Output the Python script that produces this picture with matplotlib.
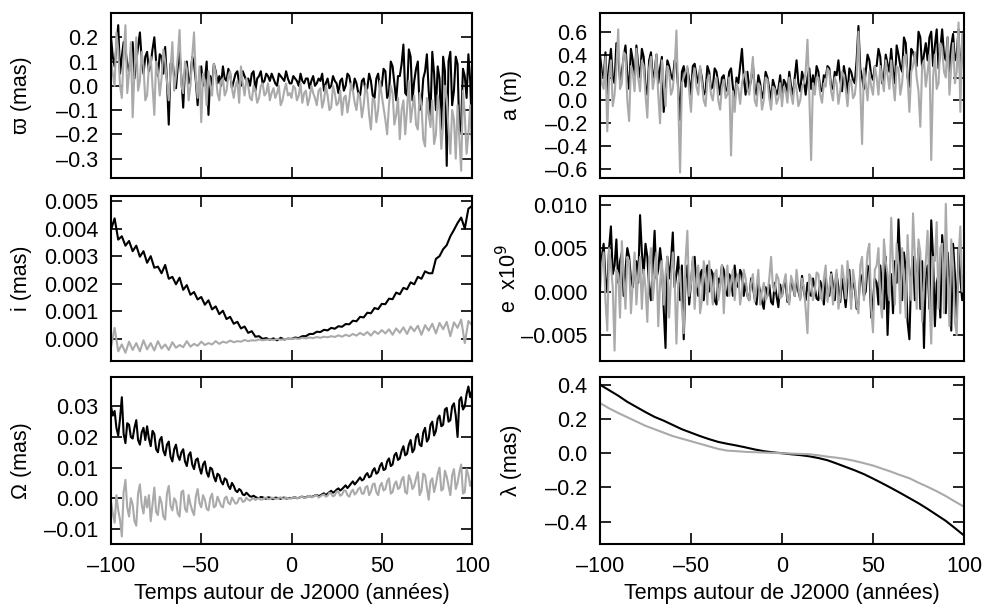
import numpy as np
import matplotlib
matplotlib.use('Agg')
import matplotlib.pyplot as plt
from matplotlib.ticker import FuncFormatter

plt.rcParams['font.family'] = ['Liberation Sans', 'DejaVu Sans']
FS = 15.5

# ---------------- data ----------------
years1 = np.arange(-100, 101, 1)         # dense noisy series (1-year steps)
years2 = np.arange(-100, 101, 2)         # inclination series (2-year steps)
years5 = np.arange(-100, 101, 5)         # lambda series (5-year steps)

# varpi (units of 0.01 mas)
varpi_black = [20, 12, 8, 16, 25, 5, 12, 18, 15, 9, 6, 14, 18, 3, 10, 16, 22, 11, 5, 12,
               14, 6, 9, 15, 20, 10, 4, 13, 12, 5, 16, 2, -16, 9, 11, 4, -1, 8, 14, 3,
               -9, 7, 10, 1, 3, 12, 9, 2, -8, 5, 8, 0, 2, 10, -12, 4, 0, 9, 6, 1,
               4, 0, 8, 3, 2, 7, 5, -1, 2, 5, 6, 1, 0, 6, 4, 2, 3, 0, 5, 6,
               -2, 3, 4, 6, 1, 2, 5, 4, 2, 5, 3, 1, 0, 5, 4, 3, 2, 6, 3, 1,
               1, 4, 3, 2, 0, 5, 2, 1, 3, 3, -1, 2, 4, 0, 1, 3, 2, 5, -2, 1,
               3, -1, 0, 4, 2, 1, -3, 2, 3, -2, 0, 5, 4, 0, -2, 3, 1, -3, -4, 2,
               3, -2, -1, 5, 2, -4, -5, 3, 5, -1, 0, 7, 6, -5, -3, 10, 8, 1, -6, 4,
               4, 9, 17, -3, -4, 15, 12, -6, 2, 7, 10, -10, -8, 3, 6, 13, -2, -12, 14, 5,
               -10, 8, 3, -18, 12, 6, -33, 10, 14, -8, -2, 12, 9, -20, -15, 7, 4, -5, 13, 2,
               -20]
varpi_grey = [10, 5, 0, 22, 15, 0, -5, 12, 25, -3, 5, 18, -13, 6, 20, -2, 2, 14, 8, -6,
              -4, 8, 12, 0, -12, 10, 6, -4, 3, 15, 10, 2, -6, 7, 18, -2, 4, 12, 23, 0,
              -3, 10, 7, -6, 0, 12, 22, 3, -5, 8, -15, 5, 2, -8, 6, 0, -4, 9, 5, -3,
              -6, 2, 3, -4, -2, 4, 6, -1, -5, 0, 2, -7, 8, 1, -4, 3, 0, -5, -6, 0,
              -2, -7, -5, 0, 1, -4, -3, 1, -6, -3, -1, -5, -3, 0, -8, -6, -2, 1, -4, -3,
              -5, 0, -1, -6, -4, 1, -7, -3, -2, -8, -5, 0, -3, -5, -8, -2, -1, -9, -6, 0,
              -4, -10, -9, 0, -3, -8, -7, -2, -12, -5, -4, -11, -6, 1, -2, -7, -10, -3, -5, -13,
              -8, 0, -3, -12, -18, -5, -6, -15, -10, 2, -4, -9, -14, -20, -8, 0, -3, -16, -12, -5,
              -22, -10, -6, -20, -10, 2, -15, -9, -4, -16, -18, -3, -8, -22, -25, -5, -12, -17, -6, -24,
              -20, -4, -10, -26, -16, 0, -5, -18, -28, -10, -14, -30, -8, -22, -35, -2, -12, -28, -20, -8,
              -25]

# a (units of 0.01 m)
a_black = [40, 25, 20, 42, 5, 30, 45, 20, 15, 50, 40, 18, 25, 38, 48, 22, 10, 45, 35, 15,
           48, 30, 20, 45, 38, 12, 5, 35, 42, 20, 25, 40, 15, 28, 38, -10, 10, 35, 30, 22,
           18, 35, 32, 10, -17, 25, 30, 12, 28, 18, 5, 30, 32, 22, 15, 28, 20, 5, 8, 30,
           25, 10, 12, 28, 25, 15, 5, 20, 22, 8, 10, 25, 28, 12, -2, 20, 15, 30, 45, 20,
           5, 25, 10, 18, 32, 10, 5, 22, 15, 2, 8, 25, 20, 10, 0, 18, 12, 5, 10, 22,
           2, 18, 15, 5, 25, 12, 5, 20, 35, 15, 8, 25, 18, 5, 20, 28, 10, 22, 12, 30,
           25, 10, 8, 22, 20, 30, 28, 12, 10, 25, 22, 35, 18, 8, 30, 20, 5, 28, 25, 18,
           15, 35, 65, 28, 20, 10, 25, 40, 35, 22, 18, 30, 30, 45, 38, 15, 20, 40, 32, 25,
           45, 25, 15, 48, 40, 30, 25, 55, 50, 20, 12, 45, 42, 35, 30, 60, 55, 28, 40, 50,
           35, 55, 60, 30, 48, 62, 28, 45, 62, 40, 35, 55, 20, 48, 58, 35, 40, 62, 15, 50,
           50]
a_grey = [30, 15, 10, 38, -27, 20, 35, -5, 5, 28, 62, 10, 15, 42, 40, 0, -18, 30, 25, 8,
          45, 20, 8, 35, 30, 5, -15, 28, 38, 10, 20, 40, 5, -20, 35, 15, -5, 30, 25, 5,
          10, 28, 61, 0, -63, 15, 20, 25, 30, 8, -10, 20, 28, 12, 5, 30, 15, 0, -5, 18,
          22, 5, 0, 15, 20, 0, -8, 12, 18, 2, 5, 20, -48, 8, -10, 15, 10, -3, 15, 22,
          25, 10, 5, 20, 38, 0, -5, 15, 12, -8, 0, 20, 18, 2, -8, 12, 10, -3, 2, 15,
          -5, 12, 8, -2, 20, 5, -3, 18, 10, -5, 0, 12, 15, 25, 53, 5, -52, 15, 5, 20,
          20, 5, -2, 15, 12, 28, 25, 8, 0, 20, 15, -3, 8, 25, 22, 10, -5, 15, 18, 2,
          5, 20, 60, 10, -38, 28, 15, 0, 25, 12, 5, 30, 20, 5, 30, 18, 8, 35, 22, 10,
          35, 15, 0, 30, 28, 5, 15, 38, 40, 20, -10, 25, 30, 42, 20, 8, -23, 30, 35, 12,
          25, 40, -52, 20, 40, 10, 15, 50, 45, 25, 20, 55, 5, 30, 50, 15, 25, 68, -10, 58,
          35]

# i (units of 1e-5 mas)
i_black = [395, 437, 360, 372, 338, 355, 318, 338, 298, 318,
           276, 300, 258, 262, 238, 268, 218, 225, 198, 222,
           178, 195, 160, 170, 143, 152, 124, 140, 107, 118,
           90, 102, 72, 80, 55, 62, 38, 45, 22, 28,
           8, 10, 0, 3, -3, 2, -5, 4, -2, 1,
           0, 5, 3, 10, 10, 18, 18, 26, 25, 33,
           31, 40, 37, 46, 44, 54, 53, 66, 64, 80,
           78, 95, 93, 112, 108, 127, 126, 146, 144, 168,
           162, 185, 180, 205, 198, 225, 218, 245, 238, 238,
           290, 300, 325, 340, 372, 395, 420, 440, 400, 472,
           482]
i_grey = [-30, 40, -45, -20, -50, -10, -40, -15, -45, -5,
          -38, -15, -42, -8, -35, -20, -40, -12, -32, -22,
          -30, -8, -28, -18, -25, -10, -22, -15, -20, -8,
          -18, -10, -14, -6, -12, -8, -10, -4, -8, -5,
          -6, -2, -5, -3, -2, -4, 0, -3, -1, 0,
          0, 2, 0, 4, 2, 5, 3, 7, 4, 8,
          6, 10, 7, 13, 8, 15, 10, 18, 12, 22,
          14, 25, 12, 28, 18, 32, 20, 35, 15, 38,
          22, 42, 18, 45, 28, 48, 15, 50, 30, 55,
          20, 58, 35, 62, 10, 60, 40, 70, -15, 65,
          50]

# e x1e9 (units of 1e-4)
e_black = [20, 40, 55, 15, 0, 50, 75, 20, 30, 60, 10, 35, 45, -5, 25, 50, 40, 15, 5, 30,
           35, 10, 88, 45, 20, 55, 40, 5, -10, 30, 70, 15, 25, 50, 30, -20, -65, 40, 15, 35,
           68, 5, 20, 40, -10, 30, -55, 15, 30, -15, 10, 35, 40, 5, -5, 20, 25, -10, 15, 30,
           0, 25, 20, -10, -15, 15, 10, 30, 25, 0, -5, 20, 15, -5, 30, 10, 5, 25, 20, -5,
           10, -5, -10, 15, 5, -8, -15, 10, 0, -12, -20, 5, -5, 8, -12, -15, 10, -5, -18, 8,
           -5, 8, 10, -12, -10, 12, 5, -5, 15, 0, -8, 18, 0, -10, 10, -3, -5, 15, 5, -8,
           -10, 12, 5, -15, 15, 0, -5, 22, 8, -10, 20, 5, -12, 15, 0, -18, 10, 25, -8, 10,
           5, -20, -15, 20, 15, -5, 0, 30, 25, -30, -10, 15, 10, -15, 30, 5, -20, 40, -50, 10,
           20, -25, 35, 10, 83, 30, -10, 45, 25, -35, -55, 20, 40, -10, 10, 50, -20, 35, -65, 20,
           30, -20, 82, 40, -40, 10, 20, -30, 65, 35, -25, 45, 10, -45, 55, 20, -30, 50, 15, -10,
           5]
e_grey = [0, 30, 45, -10, -45, 50, 30, 5, -68, 25, 20, -30, 58, 15, -20, 40, 35, -25, 10, 45,
          -15, 20, 40, -20, 25, 5, -35, 30, 50, -10, 15, 45, -40, 10, 35, -15, 20, 40, -30, 15,
          45, 15, -60, 10, 25, -20, -48, 35, 70, -5, 10, 40, -20, 15, 30, -25, -10, 35, 20, -15,
          35, 5, -15, 20, 25, -10, 5, 30, -25, 15, 30, -5, 10, 25, -10, 15, 20, -15, 0, 25,
          15, -5, -10, 10, 20, -12, 5, 25, -15, 0, 10, -10, -5, 15, 40, 5, 0, 20, 15, -8,
          -5, 10, 20, -8, -15, 18, 10, -5, 25, 5, -10, 15, 5, -20, -48, 20, 15, -10, 0, 22,
          20, -5, -10, 15, 30, -12, 5, 20, -15, 10, 25, -20, -5, 30, 15, -8, 35, 10, -20, 25,
          10, -15, -25, 30, 40, -10, 15, 45, 55, -20, -47, 25, 30, 50, -10, -30, 60, 35, 20, -10,
          85, 30, -15, 55, 30, -25, 50, 15, -30, 65, 20, -10, 90, 40, -20, 60, 45, -35, 10, 35,
          70, -10, -60, 40, 35, 80, -20, 50, 55, -25, 101, 20, -40, 60, 30, -35, -50, 40, 75, 0,
          20]

# Omega (units of 1e-4 mas)
omega_black = [300, 270, 285, 230, 205, 260, 330, 210, 180, 245, 240, 200, 195, 230, 255, 190, 175, 215, 230, 190,
               235, 195, 170, 220, 210, 160, 150, 190, 200, 155, 140, 175, 185, 135, 120, 160, 175, 140, 125, 150,
               160, 120, 105, 140, 150, 110, 95, 125, 130, 100, 80, 110, 120, 85, 70, 100, 95, 70, 55, 80,
               75, 55, 45, 65, 60, 40, 30, 50, 40, 25, 20, 30, 25, 12, 10, 18, 12, 6, 5, 8,
               4, 1, 0, 4, 3, 0, -2, 3, 2, -1, -3, 2, 1, 0, -2, 1, 2, -1, 0, 1,
               0, 2, 3, 0, 1, 4, 5, 2, 3, 6, 7, 4, 6, 9, 11, 7, 9, 13, 16, 10,
               15, 20, 24, 18, 22, 28, 32, 25, 30, 36, 42, 33, 40, 48, 55, 45, 52, 60, 68, 58,
               62, 75, 82, 68, 72, 90, 98, 80, 85, 105, 115, 92, 95, 120, 130, 105, 110, 140, 148, 125,
               130, 155, 170, 140, 145, 175, 190, 150, 160, 200, 210, 175, 170, 215, 230, 185, 195, 240, 250, 205,
               220, 260, 270, 235, 240, 290, 295, 250, 255, 300, 310, 270, 200, 320, 330, 290, 300, 340, 365, 330,
               350]
omega_grey = [-10, -50, -80, 10, -40, -70, -125, 20, 60, -30, -60, 0, -20, -75, -90, 15, 45, -20, -50, 5,
              -30, 10, -75, -20, 35, -45, -55, 5, -15, -60, -70, 15, 40, -25, -40, 0, -10, -50, -60, 20,
              25, -35, -45, 10, -20, -40, -55, 5, 30, -15, -30, 10, -5, -35, -40, 0, 15, -30, -25, 5,
              -10, -25, -30, 0, 5, -15, -20, 2, -8, -18, -15, 0, 0, -12, -10, 2, -5, -8, -3, 0,
              -6, -2, 0, -5, -4, 1, 2, -3, -3, 2, 0, -2, -2, 1, 3, -1, -1, 2, 0, -1,
              0, 2, 3, 0, 1, 4, 5, 1, 2, 6, 8, 3, 4, 9, 10, 2, 6, 10, 12, 5,
              8, 18, 15, 6, 10, 22, 20, 8, 12, 25, 25, 10, 5, 20, 28, 12, 18, 30, 35, 15,
              15, 35, 40, 10, 22, 45, 48, 20, 10, 40, 50, 25, 30, 55, 65, 15, 20, 45, 55, 30,
              35, 60, 70, 20, 15, 75, 60, 30, 40, 65, 85, 10, 25, 80, 75, 35, -5, 55, 65, 20,
              45, 80, 100, 25, 30, 90, 70, 40, 10, 75, 95, 30, 50, 85, 110, 15, 20, 95, 75, 40,
              60]

# lambda (mas)
lambda_black = [0.400, 0.368, 0.336, 0.300, 0.270, 0.240, 0.212, 0.190, 0.165,
                0.140, 0.120, 0.100, 0.082, 0.066, 0.055, 0.045, 0.034, 0.022,
                0.012, 0.005, 0.000, -0.006, -0.011, -0.018, -0.028, -0.041,
                -0.060, -0.080, -0.100, -0.122, -0.148, -0.175, -0.203, -0.232,
                -0.262, -0.292, -0.325, -0.360, -0.395, -0.437, -0.480]
lambda_grey = [0.293, 0.262, 0.235, 0.210, 0.185, 0.160, 0.140, 0.120, 0.100,
               0.085, 0.070, 0.055, 0.040, 0.025, 0.015, 0.012, 0.008, 0.006,
               0.004, 0.002, 0.000, -0.002, -0.004, -0.006, -0.012, -0.020,
               -0.026, -0.034, -0.045, -0.058, -0.072, -0.090, -0.108, -0.128,
               -0.146, -0.172, -0.196, -0.222, -0.250, -0.282, -0.312]

xticks = [-100, -50, 0, 50, 100]
xlabel = "Temps autour de J2000 (années)"

# ---------------- figure ----------------
W, H = 984, 609
fig = plt.figure(figsize=(W / 100, H / 100), dpi=100)


def add_ax(left, top, right, bottom):
    return fig.add_axes([left / W, 1 - bottom / H, (right - left) / W, (bottom - top) / H])


def dash_fmt(fmt):
    return FuncFormatter(lambda v, p: (fmt % v).replace('-', '\u2013'))


cols = [(111, 472), (600, 964)]
rows = [(13, 178), (196, 361), (377, 543.5)]

panels = [
    # (row, col, x, black, grey, scale, ylim, yticks, fmt, ylabel)
    (0, 0, years1, varpi_black, varpi_grey, 0.01, (-0.38, 0.30),
     [-0.3, -0.2, -0.1, 0.0, 0.1, 0.2], '%.1f', 'ϖ (mas)'),
    (0, 1, years1, a_black, a_grey, 0.01, (-0.677, 0.763),
     [-0.6, -0.4, -0.2, 0.0, 0.2, 0.4, 0.6], '%.1f', 'a (m)'),
    (1, 0, years2, i_black, i_grey, 1e-5, (-0.0008, 0.00518),
     [0.0, 0.001, 0.002, 0.003, 0.004, 0.005], '%.3f', 'i (mas)'),
    (1, 1, years1, e_black, e_grey, 1e-4, (-0.0080, 0.0110),
     [-0.005, 0.0, 0.005, 0.010], '%.3f', 'e  x10$^{9}$'),
    (2, 0, years1, omega_black, omega_grey, 1e-4, (-0.0148, 0.0396),
     [-0.01, 0.0, 0.01, 0.02, 0.03], '%.2f', 'Ω (mas)'),
    (2, 1, years5, lambda_black, lambda_grey, 1.0, (-0.527, 0.445),
     [-0.4, -0.2, 0.0, 0.2, 0.4], '%.1f', 'λ (mas)'),
]

for (r, c, x, yb, yg, scale, ylim, yt, fmt, ylab) in panels:
    left, right = cols[c]
    top, bottom = rows[r]
    ax = add_ax(left, top, right, bottom)
    ax.plot(x, np.asarray(yb) * scale, color='black', lw=1.5)
    ax.plot(x, np.asarray(yg) * scale, color='#aaaaaa', lw=1.5)
    ax.set_xlim(-100, 100)
    ax.set_ylim(*ylim)
    ax.set_xticks(xticks)
    ax.set_yticks(yt)
    ax.yaxis.set_major_formatter(dash_fmt(fmt))
    ax.xaxis.set_major_formatter(dash_fmt('%d'))
    ax.tick_params(direction='in', length=8, width=1.2, top=True, right=True,
                   pad=9, labelsize=FS)
    for sp in ax.spines.values():
        sp.set_linewidth(1.5)
    ax.set_ylabel(ylab, fontsize=FS)
    ax.yaxis.set_label_coords(-78.5 / (right - left), 0.5)
    if r == 2:
        ax.set_xlabel(xlabel, fontsize=FS)
        ax.xaxis.set_label_coords(0.5, -39 / (bottom - top))
    else:
        ax.tick_params(labelbottom=False)

fig.savefig('out.png', dpi=100)
